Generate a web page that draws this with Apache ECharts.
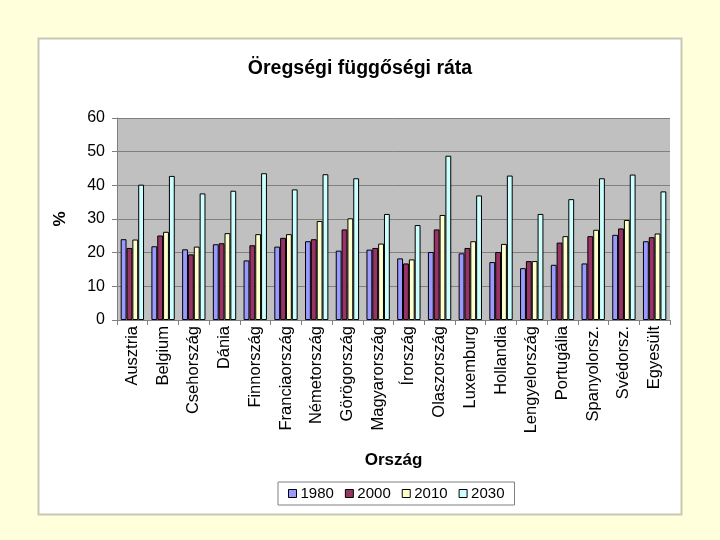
<!DOCTYPE html>
<html><head><meta charset="utf-8">
<script src="https://cdn.jsdelivr.net/npm/echarts@6/dist/echarts.min.js"></script>
<style>html,body{margin:0;padding:0;background:#FFFFDC;}#c{width:720px;height:540px;}</style>
</head><body><div id="c"></div>
<script>
const categories = ['Ausztria','Belgium','Csehország','Dánia','Finnország','Franciaország','Németország','Görögország','Magyarország','Írország','Olaszország','Luxemburg','Hollandia','Lengyelország','Portugália','Spanyolorsz.','Svédorsz.','Egyesült'];
const v1980 = [24.0, 21.9, 21.0, 22.5, 17.7, 21.8, 23.4, 20.6, 20.9, 18.3, 20.2, 19.8, 17.2, 15.4, 16.4, 16.8, 25.3, 23.4];
const v2000 = [21.4, 25.1, 19.5, 22.8, 22.2, 24.4, 24.0, 26.9, 21.4, 16.8, 26.9, 21.4, 20.2, 17.5, 23.0, 24.9, 27.2, 24.6];
const v2010 = [23.9, 26.2, 21.8, 25.8, 25.5, 25.5, 29.4, 30.2, 22.7, 18.0, 31.2, 23.4, 22.6, 17.5, 24.9, 26.8, 29.7, 25.7];
const v2030 = [40.2, 42.8, 37.6, 38.4, 43.6, 38.8, 43.3, 42.1, 31.5, 28.2, 48.8, 37.0, 42.9, 31.5, 35.9, 42.1, 43.2, 38.2];
const seriesNames = ['1980','2000','2010','2030'];
const colors = ['#9999FF','#993366','#FFFFCC','#CCFFFF'];
const yTicks = [0,10,20,30,40,50,60];

const chart = echarts.init(document.getElementById('c'));
const font = 'Liberation Sans, Arial, sans-serif';
const data = [v1980, v2000, v2010, v2030];
chart.setOption({
  backgroundColor: '#FFFFDC',
  animation: false,
  color: colors,
  graphic: [{
    type: 'rect', z: -10, silent: true,
    shape: {x: 38.5, y: 38.5, width: 643, height: 476},
    style: {fill: '#FFFFFF', stroke: '#C8C8B4', lineWidth: 2}
  }],
  title: {
    text: 'Öregségi függőségi ráta', left: 'center', top: 54,
    textStyle: {fontFamily: font, fontSize: 19.5, fontWeight: 'bold', color: '#000'}
  },
  legend: {
    bottom: 35, left: 278,
    data: seriesNames,
    icon: 'rect', itemWidth: 8, itemHeight: 8, itemGap: 11,
    borderColor: '#808080', borderWidth: 1, padding: [4, 10, 4, 10],
    textStyle: {fontFamily: font, fontSize: 15, color: '#000', padding: [0,0,0,-1]},
    itemStyle: {borderColor: '#000', borderWidth: 1}
  },
  grid: {left: 117, right: 50, top: 118, bottom: 220, containLabel: false,
         show: true, backgroundColor: '#C0C0C0', borderColor: '#808080', borderWidth: 0},
  xAxis: {
    type: 'category', data: categories,
    name: 'Ország', nameLocation: 'middle', nameGap: 132,
    nameTextStyle: {fontFamily: font, fontSize: 17, fontWeight: 'bold', color: '#000'},
    axisLine: {lineStyle: {color: '#808080', width: 1}},
    axisTick: {show: true, length: 5, lineStyle: {color: '#808080'}},
    axisLabel: {rotate: 90, interval: 0, fontFamily: font, fontSize: 16.5, color: '#000', margin: 6}
  },
  yAxis: {
    type: 'value', min: 0, max: 60, interval: 10,
    name: '%', nameLocation: 'middle', nameGap: 48, nameRotate: 90,
    nameTextStyle: {fontFamily: font, fontSize: 17, fontWeight: 'bold', color: '#000'},
    axisLine: {show: true, lineStyle: {color: '#808080'}},
    axisTick: {show: true, length: 5, lineStyle: {color: '#808080'}},
    splitLine: {lineStyle: {color: '#808080', width: 1}},
    axisLabel: {fontFamily: font, fontSize: 16, color: '#000', margin: 12,
      formatter: v => yTicks.includes(v) ? String(v) : ''}
  },
  series: seriesNames.map((n, i) => ({
    name: n, type: 'bar', data: data[i],
    barGap: '0%', barCategoryGap: '24%',
    itemStyle: {color: colors[i], borderColor: '#000', borderWidth: 1}
  }))
});
</script></body></html>
